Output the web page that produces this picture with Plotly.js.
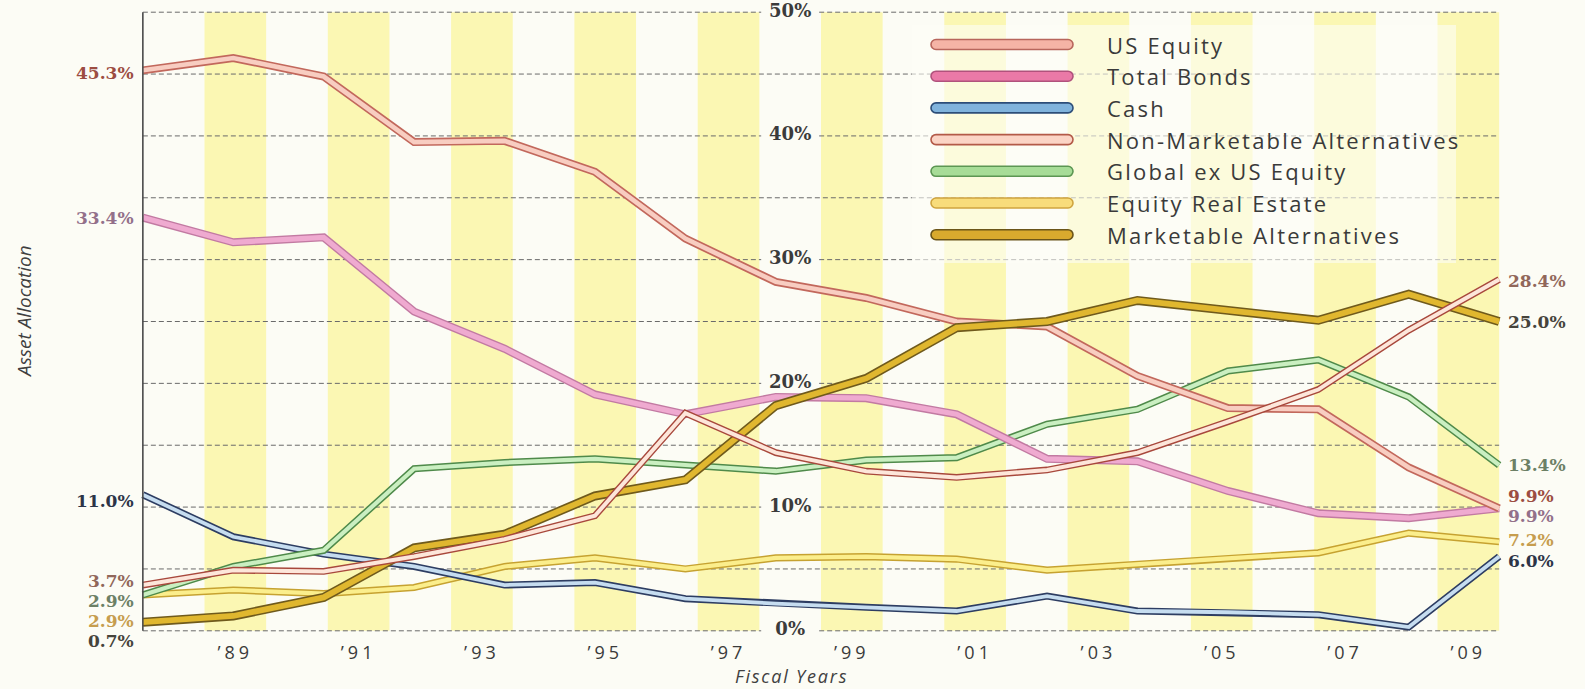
<!DOCTYPE html>
<html>
<head>
<meta charset="utf-8">
<script src="https://cdn.plot.ly/plotly-3.0.1.min.js"></script>
<style>
  html, body { margin: 0; padding: 0; background: #fcfcf5; }
  #chart { width: 1585px; height: 689px; }
</style>
</head>
<body>
<div id="chart"></div>
<script>
// ---- Data: asset allocation (%) at 16 reporting points, FY1988 to FY2009 ----
const obsIndex = [0, 1, 2, 3, 4, 5, 6, 7, 8, 9, 10, 11, 12, 13, 14, 15];

const seriesNames = [
  'US Equity', 'Total Bonds', 'Cash', 'Non-Marketable Alternatives',
  'Global ex US Equity', 'Equity Real Estate', 'Marketable Alternatives'
];
const usEquity         = [45.3, 46.3, 44.8, 39.5, 39.6, 37.1, 31.7, 28.2, 26.9, 25.0, 24.6, 20.6, 18.0, 17.9, 13.2, 9.9];
const totalBonds       = [33.4, 31.4, 31.8, 25.8, 22.8, 19.1, 17.5, 18.9, 18.8, 17.5, 13.9, 13.7, 11.3, 9.5, 9.1, 9.9];
const cash             = [11.0, 7.6, 6.2, 5.2, 3.7, 3.9, 2.6, 2.2, 1.9, 1.6, 2.8, 1.6, 1.5, 1.3, 0.3, 6.0];
const nonMarketableAlt = [3.7, 4.9, 4.8, 6.0, 7.4, 9.3, 17.6, 14.4, 12.9, 12.4, 13.0, 14.4, 16.9, 19.5, 24.3, 28.4];
const globalExUS       = [2.9, 5.2, 6.5, 13.1, 13.6, 13.9, 13.4, 12.9, 13.8, 14.0, 16.7, 17.9, 21.0, 21.9, 18.9, 13.4];
const equityRealEstate = [2.9, 3.3, 3.0, 3.5, 5.2, 5.9, 5.0, 5.9, 6.0, 5.8, 4.9, 5.4, 5.85, 6.3, 7.9, 7.2];
const marketableAlt    = [0.7, 1.2, 2.7, 6.7, 7.8, 10.9, 12.2, 18.2, 20.4, 24.5, 25.0, 26.7, 25.9, 25.1, 27.2, 25.0];

const yearTicks    = [1989, 1991, 1993, 1995, 1997, 1999, 2001, 2003, 2005, 2007, 2009];
const yearTickText = ['\u201989', '\u201991', '\u201993', '\u201995', '\u201997', '\u201999',
                      '\u201901', '\u201903', '\u201905', '\u201907', '\u201909'];
const pctTicks     = [0, 10, 20, 30, 40, 50];
const pctTickText  = ['0%', '10%', '20%', '30%', '40%', '50%'];
const gridVals     = [0, 5, 10, 15, 20, 25, 30, 35, 40, 45, 50];

const seriesValues = [usEquity, totalBonds, cash, nonMarketableAlt, globalExUS, equityRealEstate, marketableAlt];

// ---- Styles ----
const seriesStyle = [
  // edge, fill (chart line), outer width, inner width, legend fill, legend edge, label colour
  { edge: '#c2685c', fill: '#f8cdc1', wo: 8,   wi: 4.6, lf: '#f5b4a6', le: '#b8665c', lab: '#9c4d42' },
  { edge: '#c27aa2', fill: '#efaad0', wo: 8,   wi: 5.2, lf: '#ea79a7', le: '#b0527c', lab: '#93708a' },
  { edge: '#2d3d62', fill: '#c6ddf0', wo: 7,   wi: 3.8, lf: '#80b3dc', le: '#2c4d78', lab: '#2c3447' },
  { edge: '#a8483c', fill: '#fde6da', wo: 6.8, wi: 4,   lf: '#fbd4c5', le: '#b35a48', lab: '#91675a' },
  { edge: '#4f8a4a', fill: '#caefc1', wo: 7.2, wi: 4.2, lf: '#a7dc97', le: '#5c9653', lab: '#6c8065' },
  { edge: '#c6a231', fill: '#fbee8c', wo: 7.2, wi: 4.2, lf: '#f8dc7b', le: '#cfa43f', lab: '#c69d4e' },
  { edge: '#6f5a1c', fill: '#e0b72f', wo: 9,   wi: 5.8, lf: '#d9aa2e', le: '#6b5519', lab: '#46433b' }
];
// vertical nudges (px) of the end labels, to keep them apart
const startLabelShift = [-3, 0, -6, 4, -6, -26, -19];
const endLabelShift   = [12, -8, -4, -2, 0, 2, 0];

const W = 1585, H = 689;
const M = { l: 132, r: 75, t: 6, b: 52 };
const xPad = 0.12;
const yRange = [-0.5, 50.5];
const plotW = W - M.l - M.r, plotH = H - M.t - M.b;
const pxPerIdx = plotW / (15 + 2 * xPad);

// fiscal-year scale: the 16 reports span FY1987.5 .. FY2009.5 evenly
const yearToIdx = yr => (yr - 1987.5) * 15 / 22;
const pxToIdx = px => (px - M.l) / pxPerIdx - xPad;
const pyToPct = py => yRange[1] - (py - M.t) / plotH * (yRange[1] - yRange[0]);
const toPaperX = px => (px - M.l) / plotW;
const toPaperY = py => 1 - (py - M.t) / plotH;

const paper = '#fcfcf5';
const stripe = '#fbf7b3';
const gridColor = '#6a6a6a';

// ---- Traces ----
const traces = [];
const midIdx = yearToIdx(1998);

// centre percentage labels sit under the lines
traces.push({
  type: 'scatter', mode: 'text',
  x: pctTicks.map(() => midIdx), y: pctTicks, text: pctTickText,
  textposition: 'middle center',
  textfont: { family: 'DejaVu Serif', size: 18, color: '#3b3b3b', weight: 700 },
  cliponaxis: false, hoverinfo: 'skip', showlegend: false
});

const drawOrder = [5, 2, 4, 1, 0, 6, 3];
drawOrder.forEach(i => {
  const s = seriesStyle[i];
  traces.push({
    type: 'scatter', mode: 'lines', x: obsIndex, y: seriesValues[i],
    line: { color: s.edge, width: s.wo }, hoverinfo: 'skip', showlegend: false, name: seriesNames[i]
  });
  traces.push({
    type: 'scatter', mode: 'lines', x: obsIndex, y: seriesValues[i],
    line: { color: s.fill, width: s.wi }, hoverinfo: 'skip', showlegend: false, name: seriesNames[i]
  });
});

// ---- Shapes: stripes, grid, legend panel, axis, legend keys ----
const shapes = [];
yearTicks.forEach(yr => {
  shapes.push({
    type: 'rect', xref: 'x', yref: 'y', layer: 'below',
    x0: yearToIdx(yr - 0.5), x1: yearToIdx(yr + 0.5), y0: 0, y1: 50,
    fillcolor: stripe, line: { width: 0 }
  });
});
const gapL = yearToIdx(1998 - 0.47), gapR = yearToIdx(1998 + 0.47);
gridVals.forEach(v => {
  const segs = pctTicks.includes(v) ? [[0, gapL], [gapR, 15]] : [[0, 15]];
  segs.forEach(([a, b]) => shapes.push({
    type: 'line', xref: 'x', yref: 'y', layer: 'below',
    x0: a, x1: b, y0: v, y1: v,
    line: { color: gridColor, width: 1, dash: '5px,3px' }
  }));
});
// translucent legend panel over the stripes and grid
shapes.push({
  type: 'rect', xref: 'x', yref: 'y', layer: 'below',
  x0: pxToIdx(912), x1: pxToIdx(1456), y0: pyToPct(263), y1: pyToPct(25),
  fillcolor: 'rgba(253,253,247,0.6)', line: { width: 0 }
});
// left axis line
shapes.push({
  type: 'line', xref: 'x', yref: 'y', layer: 'above',
  x0: 0, x1: 0, y0: 0, y1: 50, line: { color: '#4a4a4a', width: 1.6 }
});

function pill(len, h) {
  const r = h / 2, k = 0.5523 * r;
  return `M${r},${-r} L${len - r},${-r} C${len - r + k},${-r} ${len},${-k} ${len},0 ` +
         `C${len},${k} ${len - r + k},${r} ${len - r},${r} L${r},${r} ` +
         `C${r - k},${r} 0,${k} 0,0 C0,${-k} ${r - k},${-r} ${r},${-r} Z`;
}

const legendRow0 = 44.5, legendStep = 31.7;
const annotations = [];
seriesNames.forEach((name, i) => {
  const s = seriesStyle[i];
  const rowY = legendRow0 + i * legendStep;
  shapes.push({
    type: 'path', xref: 'paper', yref: 'paper',
    xsizemode: 'pixel', ysizemode: 'pixel',
    xanchor: toPaperX(931), yanchor: toPaperY(rowY),
    path: pill(142, 10), fillcolor: s.lf, line: { color: s.le, width: 1.6 }, layer: 'above'
  });
  annotations.push({
    xref: 'paper', yref: 'paper', x: toPaperX(1105), y: toPaperY(rowY),
    xanchor: 'left', yanchor: 'middle', showarrow: false,
    text: `<span style="letter-spacing:2.2px">${name}</span>`,
    font: { family: 'Open Sans', size: 22, color: '#3a3a3a' }
  });
});

// start / end value labels
const fmt = v => v.toFixed(1) + '%';
seriesValues.forEach((vals, i) => {
  const s = seriesStyle[i];
  annotations.push({
    xref: 'x', yref: 'y', x: 0, y: vals[0], xanchor: 'right', yanchor: 'middle',
    xshift: -8, yshift: startLabelShift[i], showarrow: false, text: fmt(vals[0]), borderpad: 0,
    font: { family: 'DejaVu Serif', size: 17, color: s.lab, weight: 700 }
  });
  annotations.push({
    xref: 'x', yref: 'y', x: 15, y: vals[15], xanchor: 'left', yanchor: 'middle',
    xshift: 8, yshift: endLabelShift[i], showarrow: false, text: fmt(vals[15]), borderpad: 0,
    font: { family: 'DejaVu Serif', size: 17, color: s.lab, weight: 700 }
  });
});

// axis titles
annotations.push({
  xref: 'paper', yref: 'paper', x: toPaperX(791), y: toPaperY(676),
  xanchor: 'center', yanchor: 'middle', showarrow: false, borderpad: 0,
  text: '<span style="letter-spacing:1.8px">Fiscal Years</span>',
  font: { family: 'Open Sans', size: 18, color: '#404040', style: 'italic' }
});
annotations.push({
  xref: 'paper', yref: 'paper', x: toPaperX(24), y: toPaperY(312),
  xanchor: 'center', yanchor: 'middle', showarrow: false, text: 'Asset Allocation', textangle: -90,
  font: { family: 'Open Sans', size: 19, color: '#404040', style: 'italic' }
});

const layout = {
  width: W, height: H,
  margin: M,
  paper_bgcolor: paper, plot_bgcolor: paper,
  showlegend: false,
  xaxis: {
    range: [-xPad, 15 + xPad], showgrid: false, zeroline: false, showline: false,
    tickvals: yearTicks.map(yearToIdx),
    ticktext: yearTickText.map(t => `<span style="letter-spacing:4px">${t}</span>`),
    ticks: '', ticklabelstandoff: 3,
    tickfont: { family: 'Open Sans', size: 18, color: '#3a3a3a' }, fixedrange: true
  },
  yaxis: {
    range: yRange, showgrid: false, zeroline: false, showline: false,
    showticklabels: false, ticks: '', fixedrange: true
  },
  shapes: shapes,
  annotations: annotations
};

Plotly.newPlot('chart', traces, layout, { displayModeBar: false, staticPlot: true });
</script>
</body>
</html>
